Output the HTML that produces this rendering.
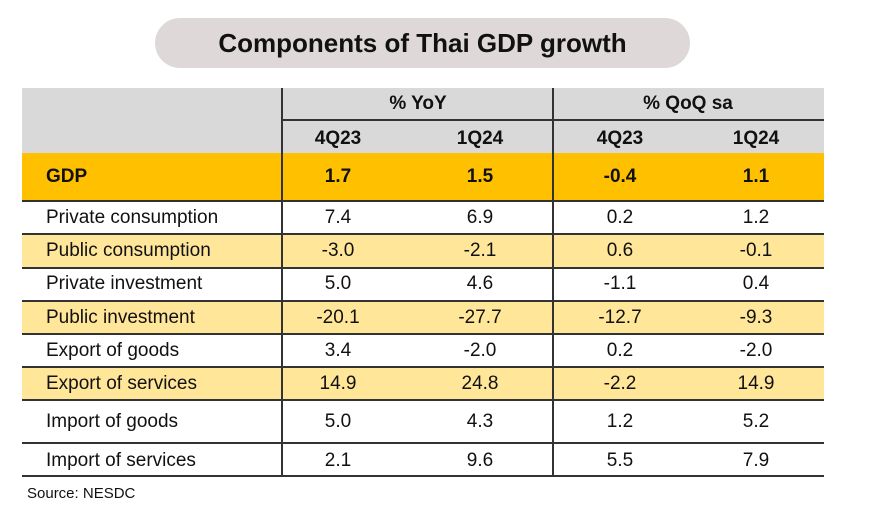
<!DOCTYPE html>
<html><head><meta charset="utf-8"><style>
body{margin:0;width:870px;height:528px;background:#fff;font-family:"Liberation Sans","DejaVu Sans",sans-serif;position:relative;overflow:hidden}
.pill{position:absolute;left:155px;top:18px;width:535px;height:50px;border-radius:25px;background:#dfd8d8;text-align:center;line-height:50px;font-weight:bold;font-size:26px;color:#111}
.r{position:absolute;left:22px;width:802px}
.t{position:absolute;font-size:19px;color:#111;white-space:nowrap}
.c{transform:translateX(-50%)}
.h{position:absolute;left:22px;width:802px;height:2px;background:#333}
.v{position:absolute;width:2px;background:#333}
</style></head><body>
<div class="pill">Components of Thai GDP growth</div>
<div class="r" style="top:88px;height:65px;background:#d9d9d9"></div>
<div class="r" style="top:153px;height:48px;background:#ffc000"></div>
<div class="r" style="top:234px;height:34px;background:#ffe699"></div>
<div class="r" style="top:301px;height:33px;background:#ffe699"></div>
<div class="r" style="top:367px;height:33px;background:#ffe699"></div>
<div class="h" style="top:200px"></div>
<div class="h" style="top:233px"></div>
<div class="h" style="top:267px"></div>
<div class="h" style="top:300px"></div>
<div class="h" style="top:333px"></div>
<div class="h" style="top:366px"></div>
<div class="h" style="top:399px"></div>
<div class="h" style="top:442px"></div>
<div class="h" style="top:475px"></div>
<div class="h" style="top:119px;left:282px;width:542px"></div>
<div class="v" style="left:281px;top:88px;height:389px"></div>
<div class="v" style="left:552px;top:88px;height:389px"></div>
<div class="t c" style="left:418px;top:93px;font-weight:bold">% YoY</div>
<div class="t c" style="left:688px;top:93px;font-weight:bold">% QoQ sa</div>
<div class="t c" style="left:338px;top:128px;font-weight:bold">4Q23</div>
<div class="t c" style="left:480px;top:128px;font-weight:bold">1Q24</div>
<div class="t c" style="left:620px;top:128px;font-weight:bold">4Q23</div>
<div class="t c" style="left:756px;top:128px;font-weight:bold">1Q24</div>
<div style="font-weight:bold">
<div class="t" style="left:46px;top:166px">GDP</div>
<div class="t c" style="left:338px;top:166px">1.7</div>
<div class="t c" style="left:480px;top:166px">1.5</div>
<div class="t c" style="left:620px;top:166px">-0.4</div>
<div class="t c" style="left:756px;top:166px">1.1</div>
</div>
<div class="t" style="left:46px;top:207px">Private consumption</div><div class="t c" style="left:338px;top:207px">7.4</div><div class="t c" style="left:480px;top:207px">6.9</div><div class="t c" style="left:620px;top:207px">0.2</div><div class="t c" style="left:756px;top:207px">1.2</div>
<div class="t" style="left:46px;top:240px">Public consumption</div><div class="t c" style="left:338px;top:240px">-3.0</div><div class="t c" style="left:480px;top:240px">-2.1</div><div class="t c" style="left:620px;top:240px">0.6</div><div class="t c" style="left:756px;top:240px">-0.1</div>
<div class="t" style="left:46px;top:273px">Private investment</div><div class="t c" style="left:338px;top:273px">5.0</div><div class="t c" style="left:480px;top:273px">4.6</div><div class="t c" style="left:620px;top:273px">-1.1</div><div class="t c" style="left:756px;top:273px">0.4</div>
<div class="t" style="left:46px;top:307px">Public investment</div><div class="t c" style="left:338px;top:307px">-20.1</div><div class="t c" style="left:480px;top:307px">-27.7</div><div class="t c" style="left:620px;top:307px">-12.7</div><div class="t c" style="left:756px;top:307px">-9.3</div>
<div class="t" style="left:46px;top:340px">Export of goods</div><div class="t c" style="left:338px;top:340px">3.4</div><div class="t c" style="left:480px;top:340px">-2.0</div><div class="t c" style="left:620px;top:340px">0.2</div><div class="t c" style="left:756px;top:340px">-2.0</div>
<div class="t" style="left:46px;top:373px">Export of services</div><div class="t c" style="left:338px;top:373px">14.9</div><div class="t c" style="left:480px;top:373px">24.8</div><div class="t c" style="left:620px;top:373px">-2.2</div><div class="t c" style="left:756px;top:373px">14.9</div>
<div class="t" style="left:46px;top:411px">Import of goods</div><div class="t c" style="left:338px;top:411px">5.0</div><div class="t c" style="left:480px;top:411px">4.3</div><div class="t c" style="left:620px;top:411px">1.2</div><div class="t c" style="left:756px;top:411px">5.2</div>
<div class="t" style="left:46px;top:450px">Import of services</div><div class="t c" style="left:338px;top:450px">2.1</div><div class="t c" style="left:480px;top:450px">9.6</div><div class="t c" style="left:620px;top:450px">5.5</div><div class="t c" style="left:756px;top:450px">7.9</div>
<div class="t" style="left:27px;top:485px;font-size:15px">Source: NESDC</div>
</body></html>
